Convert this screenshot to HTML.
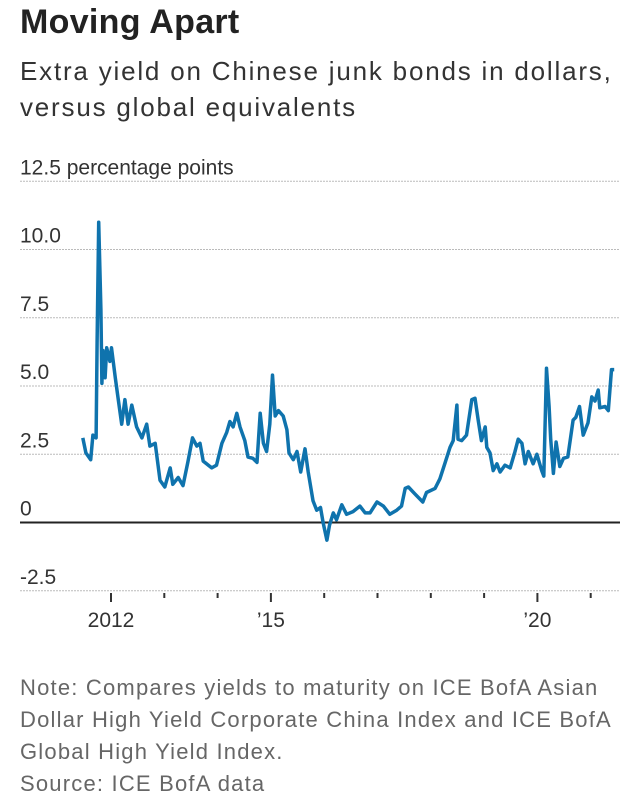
<!DOCTYPE html>
<html><head><meta charset="utf-8">
<style>
body{margin:0;background:#fff;width:641px;height:806px;overflow:hidden;font-family:"Liberation Sans",sans-serif;color:#333}
#title{position:absolute;left:20px;top:3px;font-size:34px;font-weight:bold;color:#222;letter-spacing:0.3px}
#sub{position:absolute;left:20px;top:53px;font-size:26px;line-height:36px;color:#333;letter-spacing:1.8px;white-space:nowrap}
#note{position:absolute;left:20px;top:672px;font-size:22px;line-height:32px;color:#666;letter-spacing:1.2px;white-space:nowrap}
svg{position:absolute;left:0;top:0}
</style></head><body>
<div id="title">Moving Apart</div>
<div id="sub">Extra yield on Chinese junk bonds in dollars,<br>versus global equivalents</div>
<svg id="chart" width="641" height="806"></svg>
<div id="note">Note: Compares yields to maturity on ICE BofA Asian<br>Dollar High Yield Corporate China Index and ICE BofA<br>Global High Yield Index.<br>Source: ICE BofA data</div>
<script>
const yTicks=[12.5,10,7.5,5,2.5,0,-2.5];
const yTickLabels=["12.5 percentage points","10.0","7.5","5.0","2.5","0","-2.5"];
const xTickYears=[2012,2013,2014,2015,2016,2017,2018,2019,2020,2021];
const xLabelYears=[2012,2015,2020];
const xLabels=["2012","\u201915","\u201920"];
const dates=[2011.47,2011.53,2011.62,2011.66,2011.72,2011.74,2011.77,2011.81,2011.83,2011.85,2011.89,2011.92,2011.98,2012.01,2012.08,2012.13,2012.2,2012.26,2012.32,2012.39,2012.48,2012.58,2012.67,2012.73,2012.83,2012.92,2013.01,2013.11,2013.16,2013.26,2013.35,2013.44,2013.53,2013.61,2013.67,2013.73,2013.89,2013.98,2014.08,2014.17,2014.23,2014.29,2014.36,2014.42,2014.51,2014.57,2014.66,2014.74,2014.8,2014.86,2014.92,2014.98,2015.03,2015.08,2015.14,2015.23,2015.3,2015.34,2015.42,2015.49,2015.56,2015.64,2015.7,2015.79,2015.86,2015.93,2015.98,2016.05,2016.1,2016.17,2016.23,2016.33,2016.42,2016.54,2016.67,2016.77,2016.86,2016.99,2017.11,2017.23,2017.36,2017.45,2017.52,2017.58,2017.7,2017.85,2017.92,2018.08,2018.17,2018.27,2018.36,2018.42,2018.49,2018.51,2018.58,2018.67,2018.77,2018.83,2018.89,2018.95,2019.02,2019.05,2019.11,2019.17,2019.24,2019.3,2019.39,2019.49,2019.58,2019.64,2019.71,2019.77,2019.83,2019.92,2019.99,2020.08,2020.12,2020.17,2020.22,2020.25,2020.3,2020.35,2020.42,2020.49,2020.57,2020.67,2020.72,2020.79,2020.86,2020.95,2021.02,2021.08,2021.14,2021.17,2021.27,2021.33,2021.39,2021.44,2021.46];
const spread=[3.1,2.55,2.3,3.2,3.1,6.6,11.0,7.8,5.1,6.3,5.3,6.4,5.9,6.4,5.3,4.6,3.6,4.5,3.6,4.3,3.5,3.1,3.6,2.8,2.9,1.55,1.3,2.0,1.4,1.65,1.35,2.2,3.1,2.8,2.9,2.25,2.0,2.1,2.9,3.3,3.7,3.5,4.0,3.5,3.0,2.4,2.35,2.2,4.0,2.9,2.6,3.6,5.4,3.9,4.1,3.9,3.4,2.55,2.3,2.6,1.85,2.7,1.85,0.8,0.45,0.55,0.0,-0.65,-0.1,0.35,0.1,0.65,0.3,0.4,0.6,0.35,0.35,0.75,0.6,0.3,0.45,0.6,1.25,1.3,1.05,0.75,1.1,1.25,1.6,2.2,2.75,3.0,4.3,3.05,3.0,3.2,4.5,4.55,3.75,3.0,3.5,2.75,2.55,1.9,2.15,1.85,2.1,2.0,2.6,3.05,2.9,2.15,2.6,2.15,2.5,1.9,1.7,5.65,4.25,3.05,1.8,2.95,2.05,2.35,2.4,3.75,3.85,4.25,3.2,3.65,4.6,4.45,4.85,4.2,4.25,4.1,5.6,5.6];
const NS="http://www.w3.org/2000/svg";
const svg=document.getElementById('chart');
const yScale=v=>522.5-v*27.3;
const xScale=y=>111+(y-2012)*53.3;
function mk(t,a){const e=document.createElementNS(NS,t);for(const k in a)e.setAttribute(k,a[k]);svg.appendChild(e);return e;}
yTicks.forEach((v,i)=>{
  const g=mk('line',{x1:20,x2:620,y1:yScale(v),y2:yScale(v),stroke:v===0?'#222':'#bbb','stroke-width':v===0?2:1,'stroke-dasharray':v===0?'':'2,1'});
  
  
  const t=mk('text',{x:20,y:yScale(v)-7,'font-size':21,fill:'#333','font-family':'Liberation Sans, sans-serif'});
  t.textContent=yTickLabels[i];
  
  
});
xTickYears.forEach(yr=>{
  const major=xLabelYears.includes(yr);
  const l=mk('line',{x1:xScale(yr),x2:xScale(yr),y1:593,y2:major?602:598,stroke:'#333','stroke-width':2});
  
  
});
xLabelYears.forEach((yr,i)=>{
  const t=mk('text',{x:xScale(yr),y:627,'font-size':21,fill:'#333','text-anchor':'middle','font-family':'Liberation Sans, sans-serif'});
  t.textContent=xLabels[i];
  
  
});
const d=dates.map((yr,i)=>(i?'L':'M')+xScale(yr).toFixed(1)+','+yScale(spread[i]).toFixed(1)).join('');
const p=mk('path',{d:d,fill:'none',stroke:'#0f73ad','stroke-width':3.5,'stroke-linejoin':'round'});


</script>
</body></html>
